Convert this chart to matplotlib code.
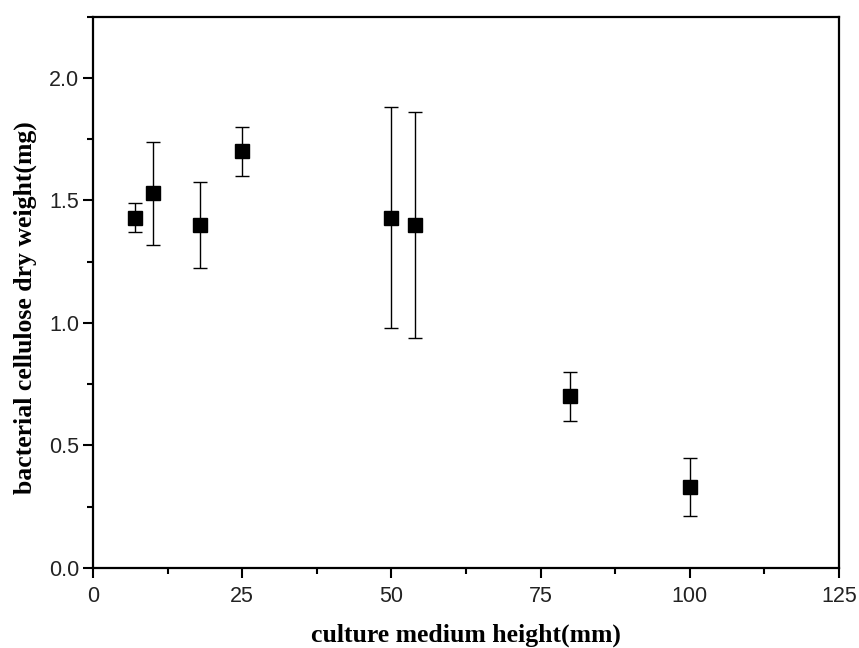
import matplotlib.pyplot as plt
from matplotlib.ticker import MultipleLocator

# culture medium height (mm) vs bacterial cellulose dry weight (mg)
heights = [7, 10, 18, 25, 50, 54, 80, 100]
dry_weight = [1.43, 1.53, 1.40, 1.70, 1.43, 1.40, 0.70, 0.33]
weight_err = [0.06, 0.21, 0.175, 0.10, 0.45, 0.46, 0.10, 0.118]

fig = plt.figure(figsize=(8.59, 6.48), dpi=100)
ax = fig.add_axes([0.1083, 0.1235, 0.8684, 0.8507])

ax.errorbar(heights, dry_weight, yerr=weight_err, fmt='s', color='black',
            markersize=9.5, ecolor='black', elinewidth=1.0, capsize=5,
            capthick=1.0)

ax.set_xlim(0, 125)
ax.set_ylim(0, 2.25)
ax.xaxis.set_major_locator(MultipleLocator(25))
ax.xaxis.set_minor_locator(MultipleLocator(12.5))
ax.yaxis.set_minor_locator(MultipleLocator(0.25))
ax.set_yticks([0, 0.5, 1.0, 1.5, 2.0])
ax.set_yticklabels(['0.0', '0.5', '1.0', '1.5', '2.0'])

for s in ax.spines.values():
    s.set_linewidth(1.6)

ax.tick_params(which='major', direction='out', length=7, width=1.5,
               labelsize=15.5, pad=3, top=False, right=False)
ax.tick_params(which='minor', direction='out', length=4, width=1.5,
               top=False, right=False)
ax.tick_params(axis='x', which='major', pad=6)
for lab in ax.get_xticklabels() + ax.get_yticklabels():
    lab.set_fontfamily('Liberation Sans')
    lab.set_color('#222222')

label_font = {'family': 'Liberation Serif', 'weight': 'bold', 'size': 18.5}
ax.set_xlabel('culture medium height(mm)', fontdict=label_font)
ax.set_ylabel('bacterial cellulose dry weight(mg)', fontdict=label_font)
ax.xaxis.set_label_coords(0.5, -0.100)
ax.yaxis.set_label_coords(-0.075, 0.473)

fig.savefig('out.png', dpi=100)
